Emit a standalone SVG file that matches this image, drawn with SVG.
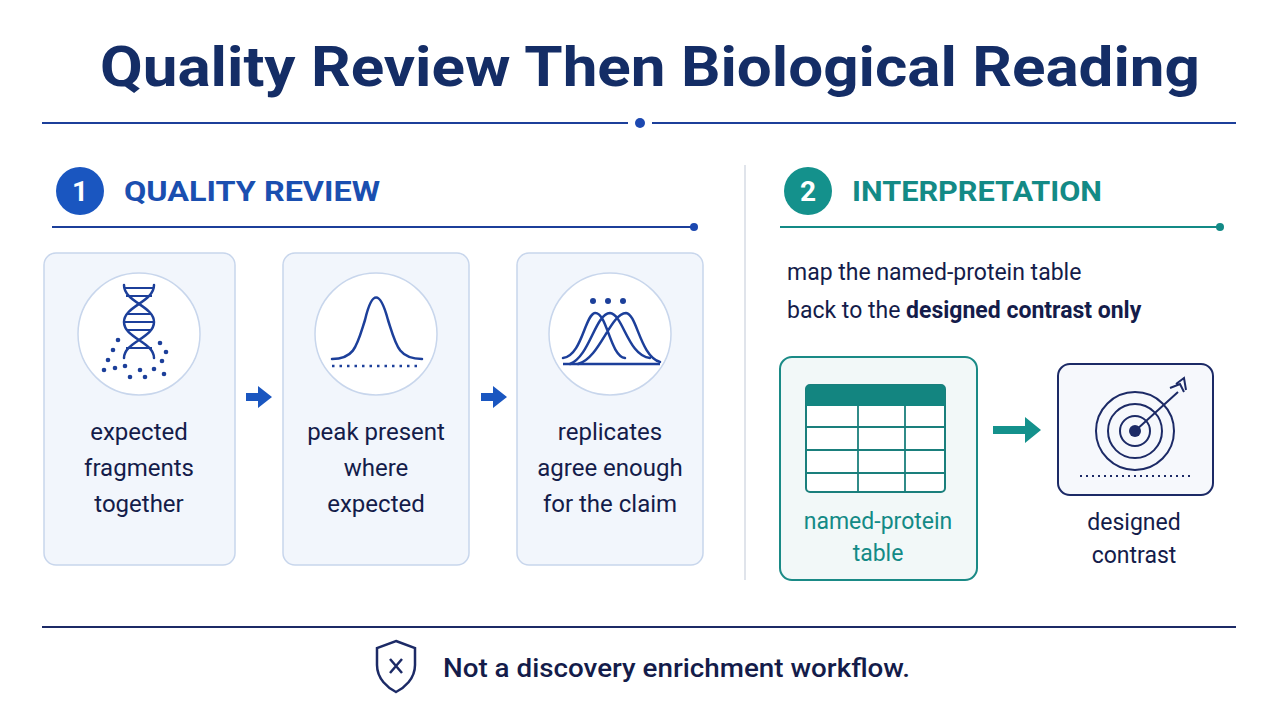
<svg xmlns="http://www.w3.org/2000/svg" width="1280" height="720" viewBox="0 0 1280 720">
<style>
text{font-family:"Roboto","Liberation Sans",sans-serif}
.card{fill:#f2f6fc;stroke:#c8d6ec;stroke-width:1.5}
.ic{fill:#fff;stroke:#c8d6ec;stroke-width:1.5}
.bl{fill:none;stroke:#1c3f9a;stroke-width:2.5;stroke-linecap:round}
.lbl{font-size:24px;fill:#141c4a;text-anchor:middle}
</style>
<rect width="1280" height="720" fill="#ffffff"/>
<text x="100" y="86" font-size="56" font-weight="700" fill="#142d66" textLength="1100" lengthAdjust="spacingAndGlyphs">Quality Review Then Biological Reading</text>
<line x1="42" y1="123" x2="628" y2="123" stroke="#1c3f9a" stroke-width="2"/>
<line x1="652" y1="123" x2="1236" y2="123" stroke="#1c3f9a" stroke-width="2"/>
<circle cx="640" cy="123" r="5" fill="#1c48b0"/>

<g id="header1">
<circle cx="80" cy="191" r="24" fill="#1a56c0"/>
<text x="80" y="201" font-size="28" font-weight="700" fill="#fff" text-anchor="middle">1</text>
<text x="124" y="201" font-size="28" font-weight="700" fill="#1a4fb0" textLength="256" lengthAdjust="spacingAndGlyphs">QUALITY REVIEW</text>
<line x1="52" y1="227" x2="693" y2="227" stroke="#1c3f9a" stroke-width="2"/>
<circle cx="694" cy="227" r="4" fill="#1c48b0"/>
</g>
<line x1="745" y1="165" x2="745" y2="580" stroke="#d6dbe4" stroke-width="1.5"/>
<g id="header2">
<circle cx="808" cy="191" r="24" fill="#14918c"/>
<text x="808" y="201" font-size="28" font-weight="700" fill="#fff" text-anchor="middle">2</text>
<text x="852" y="201" font-size="28" font-weight="700" fill="#138a86" textLength="250" lengthAdjust="spacingAndGlyphs">INTERPRETATION</text>
<line x1="780" y1="227" x2="1218" y2="227" stroke="#138a86" stroke-width="2"/>
<circle cx="1220" cy="227" r="4" fill="#138a86"/>
</g>

<g id="card1">
<rect class="card" x="44" y="253" width="191" height="312" rx="12"/>
<circle class="ic" cx="139" cy="334" r="61"/>
<path class="bl" d="M124 285 C124 302 154 306 154 322 C154 338 124 342 124 358 M154 285 C154 302 124 306 124 322 C124 338 154 342 154 358"/>
<g stroke="#1c3f9a" stroke-width="2"><line x1="124" y1="288" x2="154" y2="288"/><line x1="126" y1="296" x2="152" y2="296"/><line x1="127" y1="314" x2="151" y2="314"/><line x1="125" y1="322" x2="153" y2="322"/><line x1="127" y1="330" x2="151" y2="330"/><line x1="126" y1="348" x2="152" y2="348"/></g>
<g fill="#1c3f9a"><circle cx="108" cy="360" r="2.3"/><circle cx="113" cy="350" r="2.3"/><circle cx="118" cy="340" r="2.3"/><circle cx="115" cy="368" r="2.3"/><circle cx="125" cy="366" r="2.3"/><circle cx="130" cy="377" r="2.3"/><circle cx="140" cy="370" r="2.3"/><circle cx="145" cy="377" r="2.3"/><circle cx="154" cy="369" r="2.3"/><circle cx="164" cy="374" r="2.3"/><circle cx="162" cy="361" r="2.3"/><circle cx="166" cy="352" r="2.3"/><circle cx="160" cy="343" r="2.3"/><circle cx="104" cy="370" r="2.3"/></g>
<text class="lbl" x="139" y="440">expected</text>
<text class="lbl" x="139" y="476">fragments</text>
<text class="lbl" x="139" y="512">together</text>
</g>

<g id="card2">
<rect class="card" x="283" y="253" width="186" height="312" rx="12"/>
<circle class="ic" cx="376" cy="334" r="61"/>
<path class="bl" d="M332 359 C355 359 357 345 365 320 C372 290 380 290 388 320 C396 345 398 359 422 359"/>
<line x1="332" y1="366" x2="422" y2="366" stroke="#1c3f9a" stroke-width="2.5" stroke-dasharray="2.5 5"/>
<text class="lbl" x="376" y="440">peak present</text>
<text class="lbl" x="376" y="476">where</text>
<text class="lbl" x="376" y="512">expected</text>
</g>

<g id="card3">
<rect class="card" x="517" y="253" width="186" height="312" rx="12"/>
<circle class="ic" cx="610" cy="334" r="61"/>
<path class="bl" d="M563 358 C582 356 585 314 595 313 C607 312 610 356 625 358 M570 364 C590 356 595 314 610 313 C623 314 628 356 650 358 M578 364 C600 358 610 314 626 313 C637 314 640 356 660 362"/>
<line x1="563" y1="364" x2="660" y2="364" stroke="#1c3f9a" stroke-width="2.5"/>
<g fill="#1c3f9a"><circle cx="593" cy="301" r="3"/><circle cx="608" cy="301" r="3"/><circle cx="623" cy="301" r="3"/></g>
<text class="lbl" x="610" y="440">replicates</text>
<text class="lbl" x="610" y="476">agree enough</text>
<text class="lbl" x="610" y="512">for the claim</text>
</g>

<text x="787" y="280" font-size="23" fill="#141c4a">map the named-protein table</text>
<text x="787" y="318" font-size="23" fill="#141c4a">back to the <tspan font-weight="700">designed contrast only</tspan></text>

<g id="table">
<rect x="780" y="357" width="197" height="223" rx="12" fill="#f2f8f8" stroke="#1a8a86" stroke-width="2"/>
<rect x="806" y="385" width="139" height="107" rx="4" fill="#fff" stroke="#1a7f7c" stroke-width="2"/>
<path d="M810 385 h131 a4 4 0 0 1 4 4 v17 h-139 v-17 a4 4 0 0 1 4 -4z" fill="#138580"/>
<g stroke="#1a7f7c" stroke-width="1.8"><line x1="806" y1="427" x2="945" y2="427"/><line x1="806" y1="450" x2="945" y2="450"/><line x1="806" y1="473" x2="945" y2="473"/><line x1="858" y1="406" x2="858" y2="492"/><line x1="905" y1="406" x2="905" y2="492"/></g>
<text x="878" y="529" font-size="23" fill="#138a86" text-anchor="middle">named-protein</text>
<text x="878" y="561" font-size="23" fill="#138a86" text-anchor="middle">table</text>
</g>

<g id="target">
<rect x="1058" y="364" width="155" height="131" rx="12" fill="#f6f8fc" stroke="#1c2a66" stroke-width="2"/>
<g fill="none" stroke="#1c2a66" stroke-width="2"><circle cx="1135" cy="431" r="39"/><circle cx="1135" cy="431" r="27"/><circle cx="1135" cy="431" r="15"/></g>
<circle cx="1135" cy="431" r="6" fill="#1c2a66"/>
<path d="M1135 431 L1178 392 M1170 388 L1180 384 L1184 392 M1176 384 L1184 378 L1186 390" fill="none" stroke="#1c2a66" stroke-width="2"/>
<line x1="1080" y1="476" x2="1190" y2="476" stroke="#1c2a66" stroke-width="2" stroke-dasharray="2 4"/>
<text x="1134" y="530" font-size="23" fill="#141c4a" text-anchor="middle">designed</text>
<text x="1134" y="563" font-size="23" fill="#141c4a" text-anchor="middle">contrast</text>
</g>

<g id="connectors">
<path d="M246 393 h12 v-7 l14 11 l-14 11 v-7 h-12z" fill="#1a56c0"/>
<path d="M481 393 h12 v-7 l14 11 l-14 11 v-7 h-12z" fill="#1a56c0"/>
<path d="M993 426 h32 v-9 l16 13 l-16 13 v-9 h-32z" fill="#14918c"/>
</g>

<line x1="42" y1="627" x2="1236" y2="627" stroke="#1c2a66" stroke-width="2"/>
<g id="footer">
<path d="M396 641 L415 648 V665 C415 679 404 688 396 692 C388 688 377 679 377 665 V648 Z" fill="none" stroke="#1c2a66" stroke-width="2.5"/>
<path d="M390 659 L402 673 M402 659 L390 673" stroke="#1c2a66" stroke-width="2.5"/>
<text x="443" y="677" font-size="26" font-weight="500" fill="#141c4a" textLength="467" lengthAdjust="spacingAndGlyphs">Not a discovery enrichment workflow.</text>
</g>
</svg>
